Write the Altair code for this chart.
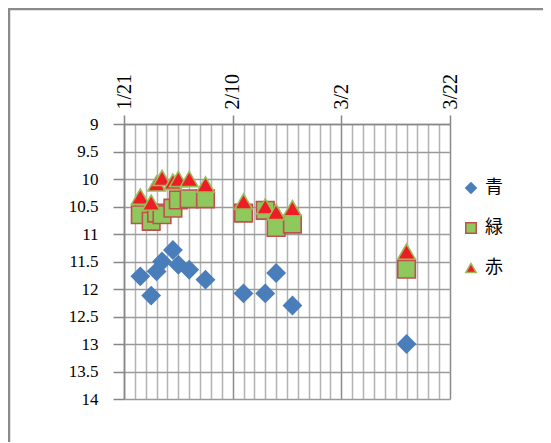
import altair as alt
import pandas as pd

dates = ["2014-01-24", "2014-01-26", "2014-01-27", "2014-01-28", "2014-01-30",
         "2014-01-31", "2014-02-02", "2014-02-05", "2014-02-12", "2014-02-16",
         "2014-02-18", "2014-02-21", "2014-03-14"]
blue = [11.77, 12.12, 11.68, 11.50, 11.29, 11.56, 11.65, 11.83, 12.08, 12.08, 11.71, 12.30, 13.00]
green = [10.65, 10.77, 10.62, 10.65, 10.53, 10.38, 10.36, 10.36, 10.62, 10.57, 10.88, 10.82, 11.64]
red = [10.32, 10.43, 10.08, 9.98, 10.05, 10.00, 10.00, 10.10, 10.41, 10.50, 10.60, 10.53, 11.32]
series_names = ["青", "緑", "赤"]
major_labels = ["1/21", "2/10", "3/2", "3/22"]
y_ticks = [9, 9.5, 10, 10.5, 11, 11.5, 12, 12.5, 13, 13.5, 14]

rows = []
for name, vals in zip(series_names, [blue, green, red]):
    for d, v in zip(dates, vals):
        rows.append({"date": d, "value": v, "series": name})
df = pd.DataFrame(rows)

grid_days = pd.date_range("2014-01-21", "2014-03-22", freq="2D")
x_values = [alt.DateTime(year=int(d.year), month=int(d.month), date=int(d.day), utc=True) for d in grid_days]

lab = "utcFormat(datum.value, '%-m/%-d')"
major_test = "indexof([" + ",".join("'%s'" % m for m in major_labels) + "], " + lab + ") >= 0"

serif = "Liberation Serif"

x_axis = alt.Axis(
    orient="top", values=x_values, title=None,
    labelExpr=major_test + " ? " + lab + " : ''",
    labelAngle=-90, labelAlign="left", labelBaseline="middle",
    labelFont=serif, labelFontSize=20, labelColor="black", labelPadding=6,
    labelOverlap=False, labelFlush=False, labelBound=False,
    tickSize=9, tickWidth=1.5, tickColor="#868686",
    tickOpacity={"condition": {"test": major_test, "value": 1}, "value": 0},
    grid=True, gridWidth=1.5,
    gridColor={"condition": {"test": major_test, "value": "#8a8a8a"}, "value": "#b3b3b3"},
    domainColor="#868686", domainWidth=1.5,
)
y_axis = alt.Axis(
    values=y_ticks, title=None, format=".1~f",
    labelFont=serif, labelFontSize=17, labelColor="black", labelPadding=15,
    tickSize=11, tickWidth=1.5, tickColor="#868686",
    grid=True, gridWidth=1.5, gridColor="#9a9a9a",
    domainColor="#868686", domainWidth=1.5,
)

points = alt.Chart(df).mark_point(filled=True, size=310, strokeWidth=1.6, opacity=1, fillOpacity=1).encode(
    x=alt.X("date:T", axis=x_axis,
            scale=alt.Scale(type="utc", nice=False,
                            domain=[alt.DateTime(year=2014, month=1, date=21, utc=True),
                                    alt.DateTime(year=2014, month=3, date=22, utc=True)])),
    y=alt.Y("value:Q", axis=y_axis, scale=alt.Scale(domain=[9, 14], reverse=True, nice=False, zero=False)),
    fill=alt.Fill("series:N", scale=alt.Scale(domain=series_names, range=["#4a7ebb", "#8fc85c", "#ee1c24"]),
                  legend=alt.Legend(title=None)),
    stroke=alt.Stroke("series:N", scale=alt.Scale(domain=series_names, range=["#4a7ebb", "#c0504d", "#9bbb59"]),
                      legend=alt.Legend(title=None)),
    shape=alt.Shape("series:N", scale=alt.Scale(domain=series_names, range=["diamond", "square", "triangle-up"]),
                    legend=alt.Legend(title=None)),
)

frame = pd.DataFrame({"k": [0]})
left_border = alt.Chart(frame).mark_rule(color="#8a8a8a", strokeWidth=2.5).encode(
    x=alt.value(-115), y=alt.value(-116), y2=alt.value(330))
top_border = alt.Chart(frame).mark_rule(color="#8a8a8a", strokeWidth=2.5).encode(
    x=alt.value(-116), x2=alt.value(420), y=alt.value(-115))

chart = alt.layer(left_border, top_border, points).properties(
    width=326, height=275,
    padding={"left": 116, "top": 116, "right": 93, "bottom": 43},
    autosize=alt.AutoSizeParams(type="none"),
).configure_view(stroke=None).configure_legend(
    orient="none", legendX=338, legendY=55,
    symbolSize=110, symbolStrokeWidth=1.5,
    labelFont="Noto Sans CJK JP", labelFontSize=18, labelColor="black",
    labelOffset=5, rowPadding=22,
)

chart.save("out.html", embed_options={"renderer": "svg", "actions": False})
